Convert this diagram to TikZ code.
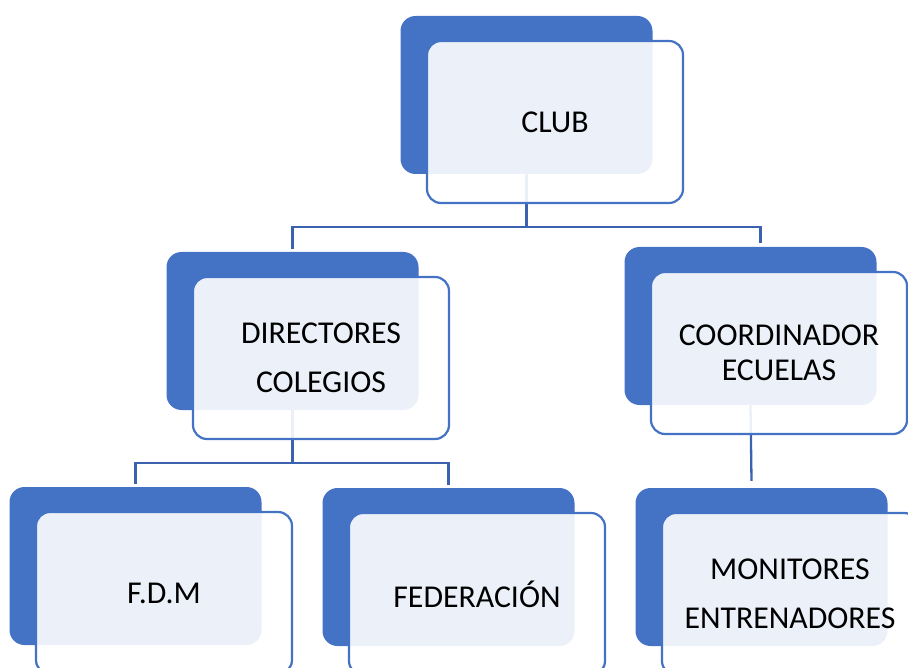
\documentclass[tikz,border=0pt]{standalone}
\usepackage{fontspec}
\setmainfont{Carlito}
\usetikzlibrary{calc,backgrounds}
\definecolor{accent}{HTML}{4472C4}
\definecolor{connblue}{HTML}{3B62AE}
\tikzset{
  lightbox/.style={draw=accent, line width=2.2pt, fill=white, fill opacity=0.9, text opacity=1,
    rounded corners=14pt, minimum width=256pt, minimum height=162pt, inner sep=0pt,
    align=center, text=black, font=\fontsize{31.8}{49}\selectfont},
  darkbox/.style={fill=accent, draw=none, rounded corners=15pt, minimum width=252pt, minimum height=158pt, inner sep=0pt},
  conn/.style={draw=connblue, line width=2.3pt}
}
\begin{document}
\begin{tikzpicture}[x=1pt,y=-1pt]
\useasboundingbox (0,0) rectangle (908,668);
% light boxes with text
\node[lightbox] (club) at (555,122) {CLUB};
\node[lightbox] (dir) at (321,358) {DIRECTORES\\COLEGIOS};
\node[lightbox, font=\fontsize{31.8}{35}\selectfont] (coord) at (779,353) {COORDINADOR\\ECUELAS};
\node[lightbox] (fdm) at (164,593) {F.D.M};
\node[lightbox] (fed) at (477,594) {FEDERACIÓN};
\node[lightbox] (mon) at (790,594) {MONITORES\\ENTRENADORES};
\begin{scope}[on background layer]
  % dark boxes behind
  \node[darkbox] (clubd) at ($(club)+(-28.5,-27)$) {};
  \node[darkbox] (dird) at ($(dir)+(-28.5,-27)$) {};
  \node[darkbox] (coordd) at ($(coord)+(-28.5,-27)$) {};
  \node[darkbox] (fdmd) at ($(fdm)+(-28.5,-27)$) {};
  \node[darkbox] (fedd) at ($(fed)+(-28.5,-27)$) {};
  \node[darkbox] (mond) at ($(mon)+(-28.5,-27)$) {};
  % connectors
  \coordinate (cr) at ($(coordd.north)+(10,-4)$);
  \draw[conn] (clubd.south) -- ++(0,53);
  \draw[conn] ($(dird.north)+(0,-3)$) |- ($(cr)+(0,-16)$) -- (cr);
  \draw[conn] (dird.south) -- ++(0,52);
  \draw[conn] ($(fdmd.north)+(0,-3)$) |- ($(fedd.north)+(0,-25)$) -- ($(fedd.north)+(0,-3)$);
  \draw[conn] (coordd.south) -- ($(mond.north)+(-10,-7)$);
\end{scope}
\end{tikzpicture}
\end{document}
